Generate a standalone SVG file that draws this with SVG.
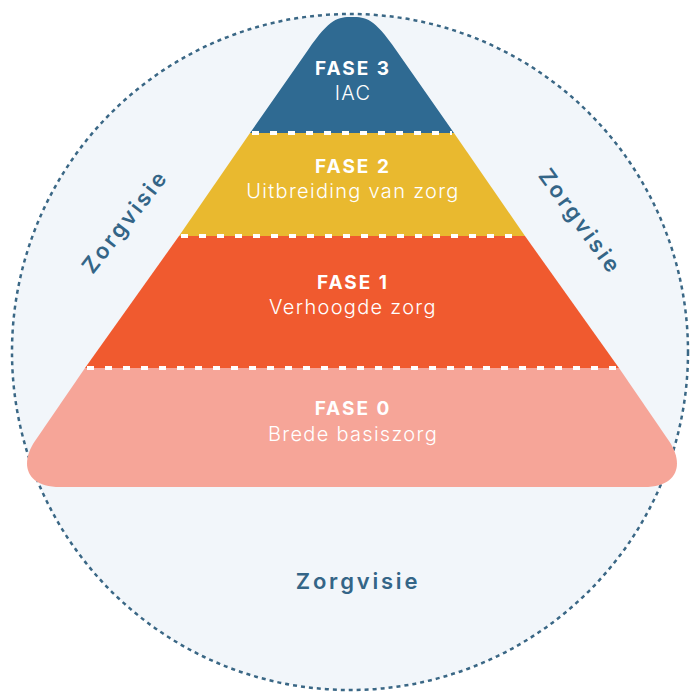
<svg xmlns="http://www.w3.org/2000/svg" width="690" height="693" viewBox="0 0 690 693">
<style>
.title{font-family:Inter,"Liberation Sans",sans-serif;font-weight:700;font-size:19px;letter-spacing:2px;fill:#ffffff;text-anchor:middle}
.sub{font-family:Inter,"Liberation Sans",sans-serif;font-weight:300;font-size:20px;letter-spacing:1.3px;fill:#ffffff;text-anchor:middle}
.vis{font-family:Inter,"Liberation Sans",sans-serif;font-weight:600;font-size:22px;letter-spacing:2.8px;fill:#346587;text-anchor:middle}
.div{stroke:#ffffff;stroke-width:4;stroke-dasharray:7 11;fill:none}
</style>
<rect width="690" height="693" fill="#ffffff"/>
<g id="circle">
<circle cx="350" cy="352" r="338" fill="#f2f6fa" stroke="#3a6785" stroke-width="2.5" stroke-dasharray="4 4"/>
</g>
<g id="fase0">
<path d="M85,368 L35,441 C20,463 25,487 60,487 L644,487 C679,487 684,463 669,441 L619,368 Z" fill="#f6a598"/>
<text class="title" x="353" y="415">FASE 0</text>
<text class="sub" x="353" y="441">Brede basiszorg</text>
</g>
<g id="fase1">
<path d="M179,236 L525,236 L619,368 L85,368 Z" fill="#f05a2f"/>
<text class="title" x="353" y="289">FASE 1</text>
<text class="sub" x="353" y="314">Verhoogde zorg</text>
</g>
<g id="fase2">
<path d="M250,133 L454,133 L525,236 L179,236 Z" fill="#e9b92f"/>
<text class="title" x="353" y="173">FASE 2</text>
<text class="sub" x="353" y="198">Uitbreiding van zorg</text>
</g>
<g id="fase3">
<path d="M250,133 L308,50 C330,18 338,17 352,17 C366,17 374,18 396,50 L454,133 Z" fill="#2f6a92"/>
<text class="title" x="353" y="75">FASE 3</text>
<text class="sub" x="353" y="100">IAC</text>
</g>
<g id="dividers">
<line class="div" x1="252" y1="133" x2="452" y2="133"/>
<line class="div" x1="181" y1="236" x2="523" y2="236"/>
<line class="div" x1="87" y1="368" x2="617" y2="368"/>
</g>
<g id="zorgvisie-left">
<text class="vis" transform="translate(131,226) rotate(-52)">Zorgvisie</text>
</g>
<g id="zorgvisie-right">
<text class="vis" transform="translate(574,226) rotate(54)">Zorgvisie</text>
</g>
<g id="zorgvisie-bottom">
<text class="vis" x="358" y="589">Zorgvisie</text>
</g>
</svg>
